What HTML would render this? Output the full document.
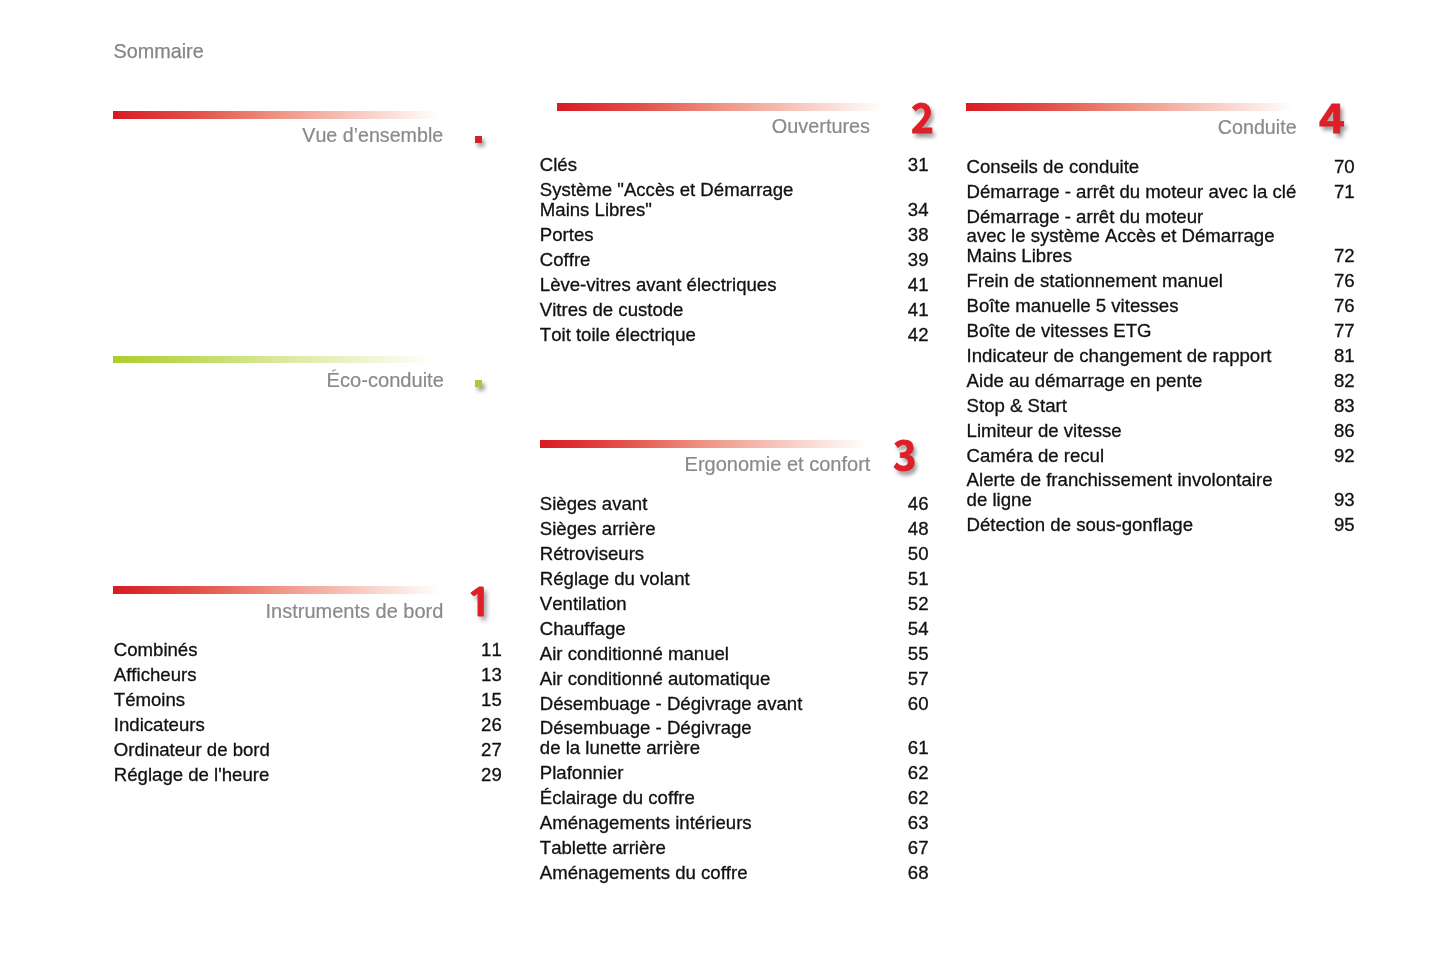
<!DOCTYPE html>
<html lang="fr"><head><meta charset="utf-8"><title>Sommaire</title>
<style>
html,body{margin:0;padding:0;background:#fff}
body{width:1445px;height:964px;position:relative;overflow:hidden;font-family:"Liberation Sans",sans-serif;font-kerning:none;font-variant-ligatures:none}
.t,.n,.h,.top,.big,.bar,.sq{position:absolute;white-space:nowrap}
.t,.n{font-size:18.6px;line-height:25px;height:25px;color:#111;-webkit-text-stroke:0.3px #111;font-variant-ligatures:none}
.n{width:60px;text-align:right}
.h{width:400px;text-align:right;font-size:19.85px;line-height:30px;height:30px;color:#8a8a8a;-webkit-text-stroke:0.2px #8a8a8a}
.top{left:113.5px;top:35.8px;font-size:19.8px;line-height:30px;color:#858585;-webkit-text-stroke:0.25px #858585}
.bar{height:7.5px}
.bar.red{background:linear-gradient(90deg,#d91a22 0%,#e25048 25%,#ee9484 50%,#f8ccc3 75%,#fce5e0 87%,#fef6f4 95%,#fff 99%)}
.bar.green{background:linear-gradient(90deg,#aecd2c 0%,#c2da5e 25%,#d8e898 50%,#ebf3ca 75%,#f5f9e3 87%,#fbfdf4 95%,#fff 99%)}
.big{color:#de1f27;-webkit-text-stroke:0.9px #de1f27;transform-origin:0 0;text-shadow:2.5px 3.5px 4.5px rgba(0,0,0,.44)}
.sq{width:6.9px;height:6.9px;box-shadow:2.5px 3.5px 4px rgba(0,0,0,.42)}
</style></head><body>
<div class="top">Sommaire</div>
<div class="bar red" style="left:113.3px;top:111.1px;width:330px"></div>
<div class="h" style="left:43.2px;top:120.2px;font-size:19.65px">Vue d’ensemble</div>
<div class="sq" style="left:475.4px;top:135.8px;background:#d6202a"></div>
<div class="bar green" style="left:113.3px;top:355.6px;width:322px"></div>
<div class="h" style="left:43.9px;top:365.4px;font-size:20.1px">Éco-conduite</div>
<div class="sq" style="left:475.2px;top:379.7px;background:#a9c938"></div>
<div class="bar red" style="left:113.3px;top:586.3px;width:330px"></div>
<div class="h" style="left:43.4px;top:596.0px;font-size:20.0px">Instruments de bord</div>
<div class="big" style="left:464.96px;top:584.23px;font-family:'NanumGothic','DejaVu Sans',sans-serif;font-weight:700;font-size:38.42px;line-height:38.42px;transform:scaleX(1.249)">1</div>
<div class="t" style="left:113.8px;top:636.6px">Combinés</div>
<div class="n" style="left:441.8px;top:636.6px">11</div>
<div class="t" style="left:113.8px;top:661.6px">Afficheurs</div>
<div class="n" style="left:441.8px;top:661.6px">13</div>
<div class="t" style="left:113.8px;top:686.6px">Témoins</div>
<div class="n" style="left:441.8px;top:686.6px">15</div>
<div class="t" style="left:113.8px;top:711.6px">Indicateurs</div>
<div class="n" style="left:441.8px;top:711.6px">26</div>
<div class="t" style="left:113.8px;top:736.6px">Ordinateur de bord</div>
<div class="n" style="left:441.8px;top:736.6px">27</div>
<div class="t" style="left:113.8px;top:761.6px">Réglage de l'heure</div>
<div class="n" style="left:441.8px;top:761.6px">29</div>
<div class="bar red" style="left:556.5px;top:103.1px;width:330px"></div>
<div class="h" style="left:470.0px;top:111.0px;font-size:19.85px">Ouvertures</div>
<div class="big" style="left:910.65px;top:95.97px;font-family:'Noto Sans CJK SC','DejaVu Sans',sans-serif;font-weight:700;font-size:40.68px;line-height:40.68px;transform:scaleX(0.954)">2</div>
<div class="t" style="left:539.8px;top:152.1px">Clés</div>
<div class="n" style="left:868.5px;top:152.1px">31</div>
<div class="t" style="left:539.8px;top:177.1px">Système "Accès et Démarrage</div>
<div class="t" style="left:539.8px;top:196.6px">Mains Libres"</div>
<div class="n" style="left:868.5px;top:196.6px">34</div>
<div class="t" style="left:539.8px;top:221.6px">Portes</div>
<div class="n" style="left:868.5px;top:221.6px">38</div>
<div class="t" style="left:539.8px;top:246.6px">Coffre</div>
<div class="n" style="left:868.5px;top:246.6px">39</div>
<div class="t" style="left:539.8px;top:271.6px">Lève-vitres avant électriques</div>
<div class="n" style="left:868.5px;top:271.6px">41</div>
<div class="t" style="left:539.8px;top:296.6px">Vitres de custode</div>
<div class="n" style="left:868.5px;top:296.6px">41</div>
<div class="t" style="left:539.8px;top:321.6px">Toit toile électrique</div>
<div class="n" style="left:868.5px;top:321.6px">42</div>
<div class="bar red" style="left:540px;top:440.2px;width:330px"></div>
<div class="h" style="left:470.4px;top:449.1px;font-size:20.03px">Ergonomie et confort</div>
<div class="big" style="left:893.41px;top:433.45px;font-family:'Noto Sans CJK SC','DejaVu Sans',sans-serif;font-weight:700;font-size:39.73px;line-height:39.73px;transform:scaleX(0.997)">3</div>
<div class="t" style="left:539.8px;top:490.6px">Sièges avant</div>
<div class="n" style="left:868.5px;top:490.6px">46</div>
<div class="t" style="left:539.8px;top:515.6px">Sièges arrière</div>
<div class="n" style="left:868.5px;top:515.6px">48</div>
<div class="t" style="left:539.8px;top:540.6px">Rétroviseurs</div>
<div class="n" style="left:868.5px;top:540.6px">50</div>
<div class="t" style="left:539.8px;top:565.6px">Réglage du volant</div>
<div class="n" style="left:868.5px;top:565.6px">51</div>
<div class="t" style="left:539.8px;top:590.6px">Ventilation</div>
<div class="n" style="left:868.5px;top:590.6px">52</div>
<div class="t" style="left:539.8px;top:615.6px">Chauffage</div>
<div class="n" style="left:868.5px;top:615.6px">54</div>
<div class="t" style="left:539.8px;top:640.6px">Air conditionné manuel</div>
<div class="n" style="left:868.5px;top:640.6px">55</div>
<div class="t" style="left:539.8px;top:665.6px">Air conditionné automatique</div>
<div class="n" style="left:868.5px;top:665.6px">57</div>
<div class="t" style="left:539.8px;top:690.6px">Désembuage - Dégivrage avant</div>
<div class="n" style="left:868.5px;top:690.6px">60</div>
<div class="t" style="left:539.8px;top:715.1px">Désembuage - Dégivrage</div>
<div class="t" style="left:539.8px;top:734.6px">de la lunette arrière</div>
<div class="n" style="left:868.5px;top:734.6px">61</div>
<div class="t" style="left:539.8px;top:759.6px">Plafonnier</div>
<div class="n" style="left:868.5px;top:759.6px">62</div>
<div class="t" style="left:539.8px;top:784.6px">Éclairage du coffre</div>
<div class="n" style="left:868.5px;top:784.6px">62</div>
<div class="t" style="left:539.8px;top:809.6px">Aménagements intérieurs</div>
<div class="n" style="left:868.5px;top:809.6px">63</div>
<div class="t" style="left:539.8px;top:834.6px">Tablette arrière</div>
<div class="n" style="left:868.5px;top:834.6px">67</div>
<div class="t" style="left:539.8px;top:859.6px">Aménagements du coffre</div>
<div class="n" style="left:868.5px;top:859.6px">68</div>
<div class="bar red" style="left:966.3px;top:103.1px;width:330px"></div>
<div class="h" style="left:896.6px;top:112.0px;font-size:19.7px">Conduite</div>
<div class="big" style="left:1319.03px;top:95.88px;font-family:'Noto Sans CJK SC','DejaVu Sans',sans-serif;font-weight:700;font-size:40.56px;line-height:40.56px;transform:scaleX(1.078)">4</div>
<div class="t" style="left:966.6px;top:153.5px">Conseils de conduite</div>
<div class="n" style="left:1294.6px;top:153.5px">70</div>
<div class="t" style="left:966.6px;top:178.5px">Démarrage - arrêt du moteur avec la clé</div>
<div class="n" style="left:1294.6px;top:178.5px">71</div>
<div class="t" style="left:966.6px;top:203.5px">Démarrage - arrêt du moteur</div>
<div class="t" style="left:966.6px;top:223.0px">avec le système Accès et Démarrage</div>
<div class="t" style="left:966.6px;top:242.5px">Mains Libres</div>
<div class="n" style="left:1294.6px;top:242.5px">72</div>
<div class="t" style="left:966.6px;top:267.5px">Frein de stationnement manuel</div>
<div class="n" style="left:1294.6px;top:267.5px">76</div>
<div class="t" style="left:966.6px;top:292.5px">Boîte manuelle 5 vitesses</div>
<div class="n" style="left:1294.6px;top:292.5px">76</div>
<div class="t" style="left:966.6px;top:317.5px">Boîte de vitesses ETG</div>
<div class="n" style="left:1294.6px;top:317.5px">77</div>
<div class="t" style="left:966.6px;top:342.5px">Indicateur de changement de rapport</div>
<div class="n" style="left:1294.6px;top:342.5px">81</div>
<div class="t" style="left:966.6px;top:367.5px">Aide au démarrage en pente</div>
<div class="n" style="left:1294.6px;top:367.5px">82</div>
<div class="t" style="left:966.6px;top:392.5px">Stop &amp; Start</div>
<div class="n" style="left:1294.6px;top:392.5px">83</div>
<div class="t" style="left:966.6px;top:417.5px">Limiteur de vitesse</div>
<div class="n" style="left:1294.6px;top:417.5px">86</div>
<div class="t" style="left:966.6px;top:442.5px">Caméra de recul</div>
<div class="n" style="left:1294.6px;top:442.5px">92</div>
<div class="t" style="left:966.6px;top:467.0px">Alerte de franchissement involontaire</div>
<div class="t" style="left:966.6px;top:486.5px">de ligne</div>
<div class="n" style="left:1294.6px;top:486.5px">93</div>
<div class="t" style="left:966.6px;top:511.5px">Détection de sous-gonflage</div>
<div class="n" style="left:1294.6px;top:511.5px">95</div>
</body></html>
